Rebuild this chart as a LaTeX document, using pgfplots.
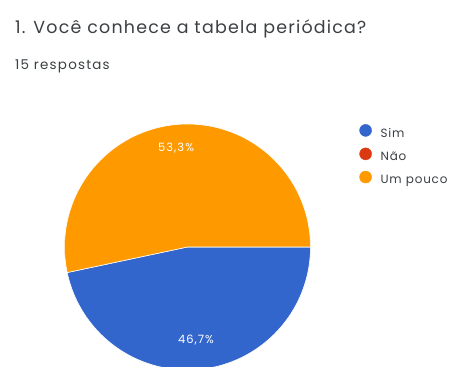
\documentclass[border=0pt]{standalone}
\usepackage{fontspec}
\setmainfont{Poppins}
\newfontfamily\widefont[LetterSpace=7]{Poppins}
\newfontfamily\widerfont[LetterSpace=9]{Poppins}
\usepackage{pgfplots}
\pgfplotsset{compat=1.18}
\definecolor{gsim}{HTML}{3366CC}
\definecolor{gnao}{HTML}{DC3912}
\definecolor{gpouco}{HTML}{FF9900}
\definecolor{gtxt}{HTML}{3C4043}
\begin{document}
\begin{tikzpicture}[x=1bp,y=1bp]
\fill[white] (0bp,0bp) rectangle (451bp,367bp);
\node[anchor=base west, font=\widefont\fontsize{17.5}{20}\selectfont, text=gtxt, inner sep=0pt] at (15bp,333.5bp) {1. Você conhece a tabela periódica?};
\node[anchor=base west, font=\widerfont\fontsize{13.5}{15}\selectfont, text=gtxt, inner sep=0pt] at (15bp,297bp) {15 respostas};
% values: Sim 7, Nao 0, Um pouco 8 (of 15); start at 0 deg, clockwise
\begin{axis}[
  at={(64.5bp,0bp)}, anchor=south west,
  scale only axis, width=246bp, height=243bp,
  xmin=-1, xmax=1, ymin=-0.9756, ymax=1.0,
  hide axis, clip=true,
  legend style={at={(rel axis cs:1.198,1.0)}, anchor=north west, draw=none, fill=none,
    font=\widefont\fontsize{12}{14}\selectfont, text=gtxt, row sep=7bp, inner sep=0pt},
  legend cell align=left,
]
\addplot[forget plot, fill=gsim, draw=white, line width=0.6pt, domain=-168:0, samples=120, variable=\t]
  ({cos(\t)},{sin(\t)}) -- (axis cs:0,0) -- cycle;
\addplot[forget plot, fill=gpouco, draw=white, line width=0.6pt, domain=0:192, samples=120, variable=\t]
  ({cos(\t)},{sin(\t)}) -- (axis cs:0,0) -- cycle;
\node[text=white, font=\widerfont\fontsize{11.5}{13}\selectfont] at (axis cs:-0.093,0.805) {53,3\%};
\node[text=white, font=\widerfont\fontsize{11.5}{13}\selectfont] at (axis cs:0.069,-0.756) {46,7\%};
\addlegendimage{legend image code/.code={\fill[gsim] (0,0) circle (6bp); \path[draw=none,fill=none] (0,0) -- (13bp,0);}}
\addlegendentry{Sim}
\addlegendimage{legend image code/.code={\fill[gnao] (0,0) circle (6bp); \path[draw=none,fill=none] (0,0) -- (13bp,0);}}
\addlegendentry{Não}
\addlegendimage{legend image code/.code={\fill[gpouco] (0,0) circle (6bp); \path[draw=none,fill=none] (0,0) -- (13bp,0);}}
\addlegendentry{Um pouco}
\end{axis}
\end{tikzpicture}
\end{document}
